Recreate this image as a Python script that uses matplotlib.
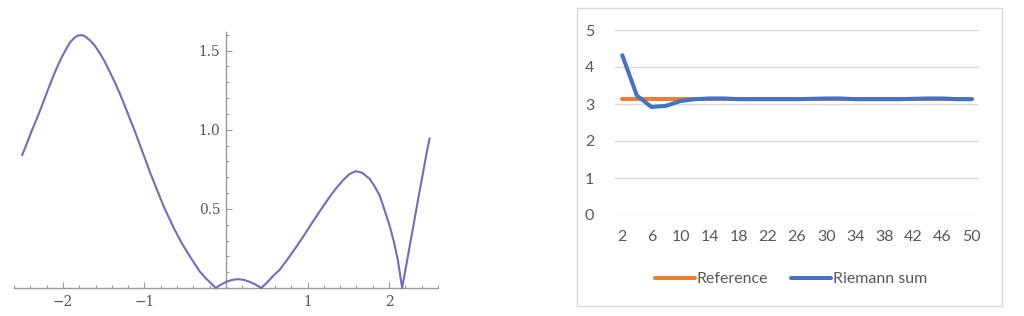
import matplotlib
matplotlib.use("Agg")
import matplotlib.pyplot as plt
from matplotlib.patches import Rectangle
from matplotlib.ticker import MultipleLocator, FixedLocator

# ---------------- data ----------------
# Left panel: curve
curve_x = [-2.50, -2.44, -2.385, -2.32, -2.262, -2.20, -2.14, -2.08, -2.017, -1.96,
           -1.915, -1.86, -1.814, -1.77, -1.73, -1.67, -1.61, -1.55, -1.487, -1.43,
           -1.364, -1.30, -1.24, -1.18, -1.118, -1.06, -1.017, -0.935, -0.85, -0.76,
           -0.646, -0.55, -0.48, -0.40, -0.323, -0.25, -0.20, -0.126,
           -0.06, 0.005, 0.075, 0.147, 0.22, 0.29, 0.36, 0.433,
           0.50, 0.576, 0.658, 0.76, 0.862, 0.96, 1.066, 1.17, 1.27, 1.35,
           1.434, 1.51, 1.59, 1.67, 1.761, 1.825, 1.884, 1.94, 2.006, 2.06,
           2.108, 2.16, 2.22, 2.29, 2.374, 2.456, 2.496]
curve_y = [0.84, 0.915, 0.99, 1.07, 1.145, 1.23, 1.31, 1.385, 1.455, 1.51,
           1.55, 1.58, 1.595, 1.597, 1.59, 1.565, 1.532, 1.485, 1.43, 1.37,
           1.30, 1.225, 1.15, 1.07, 0.99, 0.91, 0.85, 0.735, 0.625, 0.51,
           0.385, 0.29, 0.23, 0.165, 0.105, 0.062, 0.038, 0.0,
           0.022, 0.039, 0.051, 0.056, 0.051, 0.039, 0.022, 0.0,
           0.033, 0.075, 0.115, 0.185, 0.26, 0.335, 0.42, 0.50, 0.575, 0.63,
           0.68, 0.718, 0.738, 0.728, 0.69, 0.64, 0.585, 0.50, 0.395, 0.29,
           0.175, 0.0, 0.17, 0.37, 0.61, 0.84, 0.944]
left_xticks = [-2, -1, 1, 2]
left_xticklabels = ["\u22122", "\u22121", "1", "2"]
left_yticks = [0.5, 1.0, 1.5]
left_yticklabels = ["0.5", "1.0", "1.5"]

# Right panel: Excel line chart
n_values = [2, 4, 6, 8, 10, 12, 14, 16, 18, 20, 22, 24, 26, 28, 30, 32, 34, 36, 38, 40,
            42, 44, 46, 48, 50]
reference = [3.14] * 25
riemann = [4.32, 3.23, 2.92, 2.95, 3.08, 3.13, 3.15, 3.15, 3.13, 3.13, 3.13, 3.13, 3.13, 3.14,
           3.15, 3.15, 3.13, 3.13, 3.13, 3.13, 3.14, 3.15, 3.15, 3.13, 3.13]
right_yticks = [0, 1, 2, 3, 4, 5]
series_names = ["Reference", "Riemann sum"]

# ---------------- figure ----------------
W, H = 1024, 316
fig = plt.figure(figsize=(W / 100, H / 100), dpi=100)
fig.patch.set_facecolor("white")

def frac_box(x0, y0, x1, y1):
    return [x0 / W, (H - y1) / H, (x1 - x0) / W, (y1 - y0) / H]

# ---- left panel ----
axl = fig.add_axes(frac_box(14, 32, 438, 288))
axl.plot(curve_x, curve_y, color="#6e6ec0", lw=1.5, clip_on=False, zorder=3,
         solid_joinstyle="round")
axl.set_xlim(-2.6, 2.6)
axl.set_ylim(0, 1.617)
for s in ["top", "right"]:
    axl.spines[s].set_visible(False)
axl.spines["left"].set_position(("data", 0))
axl.spines["bottom"].set_position(("data", 0))
for s in ["left", "bottom"]:
    axl.spines[s].set_color("#9a9a9a")
    axl.spines[s].set_linewidth(1.0)
axl.xaxis.set_major_locator(FixedLocator(left_xticks))
axl.set_xticklabels(left_xticklabels)
axl.xaxis.set_minor_locator(MultipleLocator(0.2))
axl.yaxis.set_major_locator(FixedLocator(left_yticks))
axl.set_yticklabels(left_yticklabels)
axl.yaxis.set_minor_locator(MultipleLocator(0.1))
axl.tick_params(which="both", direction="in", color="#9a9a9a", width=0.8,
                labelcolor="#555555", labelsize=9.9)
axl.tick_params(which="major", length=4.5)
axl.tick_params(which="minor", length=2.5)
axl.tick_params(axis="x", pad=5)
axl.tick_params(axis="y", pad=4)
for lab in axl.get_xticklabels() + axl.get_yticklabels():
    lab.set_family("DejaVu Serif")
axl.set_facecolor("none")

# ---- right panel ----
fig.add_artist(Rectangle((577 / W, (H - 306) / H), (1002 - 577) / W, (306 - 8) / H,
                         transform=fig.transFigure, fill=False,
                         edgecolor="#d9d9d9", lw=1.0))

axr = fig.add_axes(frac_box(615, 30, 979, 215))
idx = list(range(len(n_values)))
axr.plot(idx, reference, color="#ED7D31", lw=2.9, solid_capstyle="round",
         label=series_names[0], zorder=3)
axr.plot(idx, riemann, color="#4472C4", lw=2.9, solid_capstyle="round",
         label=series_names[1], zorder=4)
axr.set_xlim(-0.5, len(n_values) - 0.5)
axr.set_ylim(0, 5)
axr.set_yticks(right_yticks)
axr.set_xticks(idx[::2])
axr.set_xticklabels([str(v) for v in n_values[::2]])
for s in axr.spines.values():
    s.set_visible(False)
axr.grid(axis="y", color="#d9d9d9", lw=1.0)
axr.set_axisbelow(True)
axr.tick_params(length=0, labelcolor="#595959", labelsize=11.5)
axr.tick_params(axis="y", pad=15)
axr.tick_params(axis="x", pad=11)
for lab in axr.get_xticklabels() + axr.get_yticklabels():
    lab.set_family("Lato")

leg = fig.legend(loc="center", bbox_to_anchor=(791 / W, (H - 279) / H), ncol=2,
                 frameon=False, handlelength=2.5, handletextpad=0.15,
                 columnspacing=1.4, prop={"family": "Lato", "size": 11.5})
for t in leg.get_texts():
    t.set_color("#595959")

fig.savefig("out.png", dpi=100, facecolor="white")
